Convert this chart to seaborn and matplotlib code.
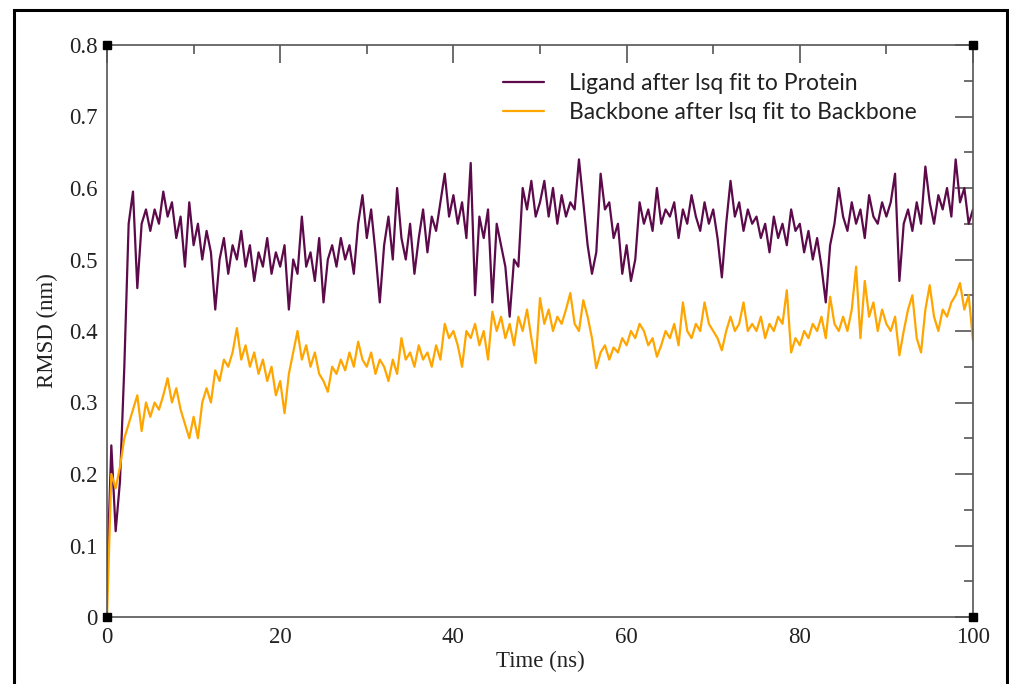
import numpy as np
import pandas as pd
import matplotlib
matplotlib.use("Agg")
import matplotlib.pyplot as plt
from matplotlib.patches import Rectangle
import seaborn as sns

# -------------------------
# data (0.5 ns sampling)
# -------------------------
time_ns = np.arange(0, 100.5, 0.5)

ligand_rmsd = [
    0.05, 0.24, 0.12, 0.19, 0.35, 0.55, 0.595, 0.46, 0.55, 0.57,
    0.54, 0.57, 0.55, 0.595, 0.56, 0.58, 0.53, 0.56, 0.49, 0.58,
    0.52, 0.55, 0.50, 0.54, 0.51, 0.43, 0.50, 0.53, 0.48, 0.52,
    0.50, 0.54, 0.49, 0.52, 0.47, 0.51, 0.49, 0.53, 0.48, 0.51,
    0.49, 0.52, 0.43, 0.50, 0.48, 0.56, 0.49, 0.51, 0.47, 0.53,
    0.44, 0.50, 0.52, 0.49, 0.53, 0.50, 0.52, 0.48, 0.55, 0.59,
    0.53, 0.57, 0.51, 0.44, 0.52, 0.56, 0.50, 0.60, 0.53, 0.50,
    0.55, 0.48, 0.53, 0.57, 0.51, 0.56, 0.54, 0.58, 0.62, 0.56,
    0.59, 0.55, 0.58, 0.53, 0.635, 0.45, 0.56, 0.53, 0.57, 0.44,
    0.55, 0.52, 0.49, 0.42, 0.50, 0.49, 0.60, 0.57, 0.61, 0.56,
    0.58, 0.61, 0.56, 0.60, 0.55, 0.59, 0.56, 0.58, 0.57, 0.64,
    0.58, 0.52, 0.48, 0.51, 0.62, 0.57, 0.58, 0.53, 0.55, 0.48,
    0.52, 0.47, 0.50, 0.58, 0.55, 0.57, 0.54, 0.60, 0.55, 0.57,
    0.56, 0.58, 0.53, 0.57, 0.55, 0.59, 0.56, 0.54, 0.58, 0.55,
    0.57, 0.53, 0.475, 0.55, 0.61, 0.56, 0.58, 0.54, 0.57, 0.55,
    0.56, 0.53, 0.55, 0.51, 0.56, 0.53, 0.55, 0.52, 0.57, 0.54,
    0.55, 0.51, 0.54, 0.50, 0.53, 0.49, 0.44, 0.52, 0.55, 0.60,
    0.56, 0.54, 0.58, 0.55, 0.57, 0.53, 0.59, 0.56, 0.55, 0.58,
    0.56, 0.58, 0.62, 0.47, 0.55, 0.57, 0.54, 0.58, 0.55, 0.63,
    0.58, 0.55, 0.59, 0.57, 0.60, 0.56, 0.64, 0.58, 0.60, 0.55,
    0.57,
]

backbone_rmsd = [
    0.0, 0.20, 0.18, 0.21, 0.25, 0.27, 0.29, 0.31, 0.26, 0.30,
    0.28, 0.30, 0.29, 0.31, 0.334, 0.30, 0.32, 0.29, 0.27, 0.25,
    0.28, 0.25, 0.30, 0.32, 0.30, 0.345, 0.33, 0.36, 0.35, 0.37,
    0.404, 0.36, 0.38, 0.35, 0.37, 0.34, 0.36, 0.33, 0.35, 0.31,
    0.33, 0.285, 0.34, 0.37, 0.40, 0.36, 0.38, 0.35, 0.37, 0.34,
    0.33, 0.315, 0.35, 0.34, 0.36, 0.345, 0.37, 0.35, 0.385, 0.36,
    0.35, 0.37, 0.34, 0.36, 0.35, 0.33, 0.36, 0.34, 0.39, 0.36,
    0.37, 0.35, 0.38, 0.36, 0.37, 0.35, 0.38, 0.36, 0.41, 0.39,
    0.40, 0.38, 0.35, 0.40, 0.39, 0.41, 0.38, 0.40, 0.36, 0.427,
    0.40, 0.42, 0.39, 0.41, 0.38, 0.42, 0.40, 0.43, 0.39, 0.355,
    0.446, 0.41, 0.43, 0.40, 0.42, 0.41, 0.43, 0.453, 0.41, 0.40,
    0.443, 0.42, 0.39, 0.348, 0.37, 0.38, 0.36, 0.377, 0.37, 0.39,
    0.38, 0.40, 0.39, 0.41, 0.40, 0.38, 0.39, 0.364, 0.38, 0.40,
    0.39, 0.41, 0.38, 0.44, 0.40, 0.39, 0.41, 0.40, 0.44, 0.41,
    0.40, 0.39, 0.373, 0.40, 0.42, 0.40, 0.41, 0.44, 0.40, 0.41,
    0.40, 0.42, 0.39, 0.41, 0.40, 0.42, 0.41, 0.457, 0.37, 0.39,
    0.38, 0.40, 0.39, 0.41, 0.40, 0.42, 0.39, 0.448, 0.41, 0.40,
    0.42, 0.40, 0.43, 0.49, 0.39, 0.47, 0.42, 0.44, 0.40, 0.43,
    0.41, 0.40, 0.42, 0.366, 0.40, 0.43, 0.45, 0.39, 0.37, 0.43,
    0.464, 0.42, 0.40, 0.43, 0.42, 0.44, 0.45, 0.467, 0.43, 0.45,
    0.387,
]

series_names = ["Ligand after lsq fit to Protein", "Backbone after lsq fit to Backbone"]
series_colors = ["#5c0a4a", "#ffa500"]

x_ticks = [0, 20, 40, 60, 80, 100]
x_tick_labels = ["0", "20", "40", "60", "80", "100"]
y_ticks = [0, 0.1, 0.2, 0.3, 0.4, 0.5, 0.6, 0.7, 0.8]
y_tick_labels = ["0", "0.1", "0.2", "0.3", "0.4", "0.5", "0.6", "0.7", "0.8"]

# -------------------------
# long table for seaborn
# -------------------------
df = pd.concat([
    pd.DataFrame({"Time": time_ns, "RMSD": ligand_rmsd, "Set": series_names[0]}),
    pd.DataFrame({"Time": time_ns, "RMSD": backbone_rmsd, "Set": series_names[1]}),
])

sns.set_theme(style="white")
plt.rcParams["font.family"] = ["Liberation Serif", "DejaVu Serif"]

fig = plt.figure(figsize=(10.09, 6.84), dpi=100)
ax = fig.add_axes([107 / 1009, 1 - 617 / 684, 866 / 1009, 572 / 684])

sns.lineplot(data=df, x="Time", y="RMSD", hue="Set", palette=series_colors,
             linewidth=1.6, ax=ax, legend=True)

ax.set_xlim(x_ticks[0], x_ticks[-1])
ax.set_ylim(y_ticks[0], y_ticks[-1])
ax.set_xticks(x_ticks)
ax.set_xticklabels(x_tick_labels)
ax.set_yticks(y_ticks)
ax.set_yticklabels(y_tick_labels)
ax.set_xticks(np.arange(10, 100, 20), minor=True)
ax.set_yticks(np.arange(0.05, 0.8, 0.1), minor=True)

ax.tick_params(which="both", direction="in", top=True, right=True,
               color="#555555", width=1.2, labelsize=16.5, labelcolor="#222222")
ax.tick_params(which="major", length=13, pad=7)
ax.tick_params(which="minor", length=6.5)
for sp in ax.spines.values():
    sp.set_color("#555555")
    sp.set_linewidth(1.2)

ax.set_xlabel("Time (ns)", fontsize=16.5, color="#222222", labelpad=2)
ax.set_ylabel("RMSD (nm)", fontsize=16.5, color="#222222", labelpad=8)

# black corner squares (Grace-style)
cx = [x_ticks[0], x_ticks[-1], x_ticks[0], x_ticks[-1]]
cy = [y_ticks[0], y_ticks[0], y_ticks[-1], y_ticks[-1]]
ax.plot(cx, cy, linestyle="none", marker="s", ms=6, color="black", clip_on=False, zorder=5)

# legend
leg = ax.legend(loc="upper left", bbox_to_anchor=(503 / 1009, 1 - 73 / 684),
                bbox_transform=fig.transFigure, frameon=False, borderaxespad=0,
                handlelength=1.8, handletextpad=1.1, labelspacing=0.35, borderpad=0,
                prop={"family": ["Lato", "DejaVu Sans"], "size": 16.5})
for line in leg.get_lines():
    line.set_linewidth(1.6)
for t in leg.get_texts():
    t.set_color("#222222")

# outer black frame
fig.patches.append(Rectangle((14 / 1009, -0.02), (1007 - 14) / 1009, 1 - 10 / 684 + 0.02,
                             transform=fig.transFigure, fill=False,
                             edgecolor="black", linewidth=2.2))

fig.savefig("out.png", dpi=100)
